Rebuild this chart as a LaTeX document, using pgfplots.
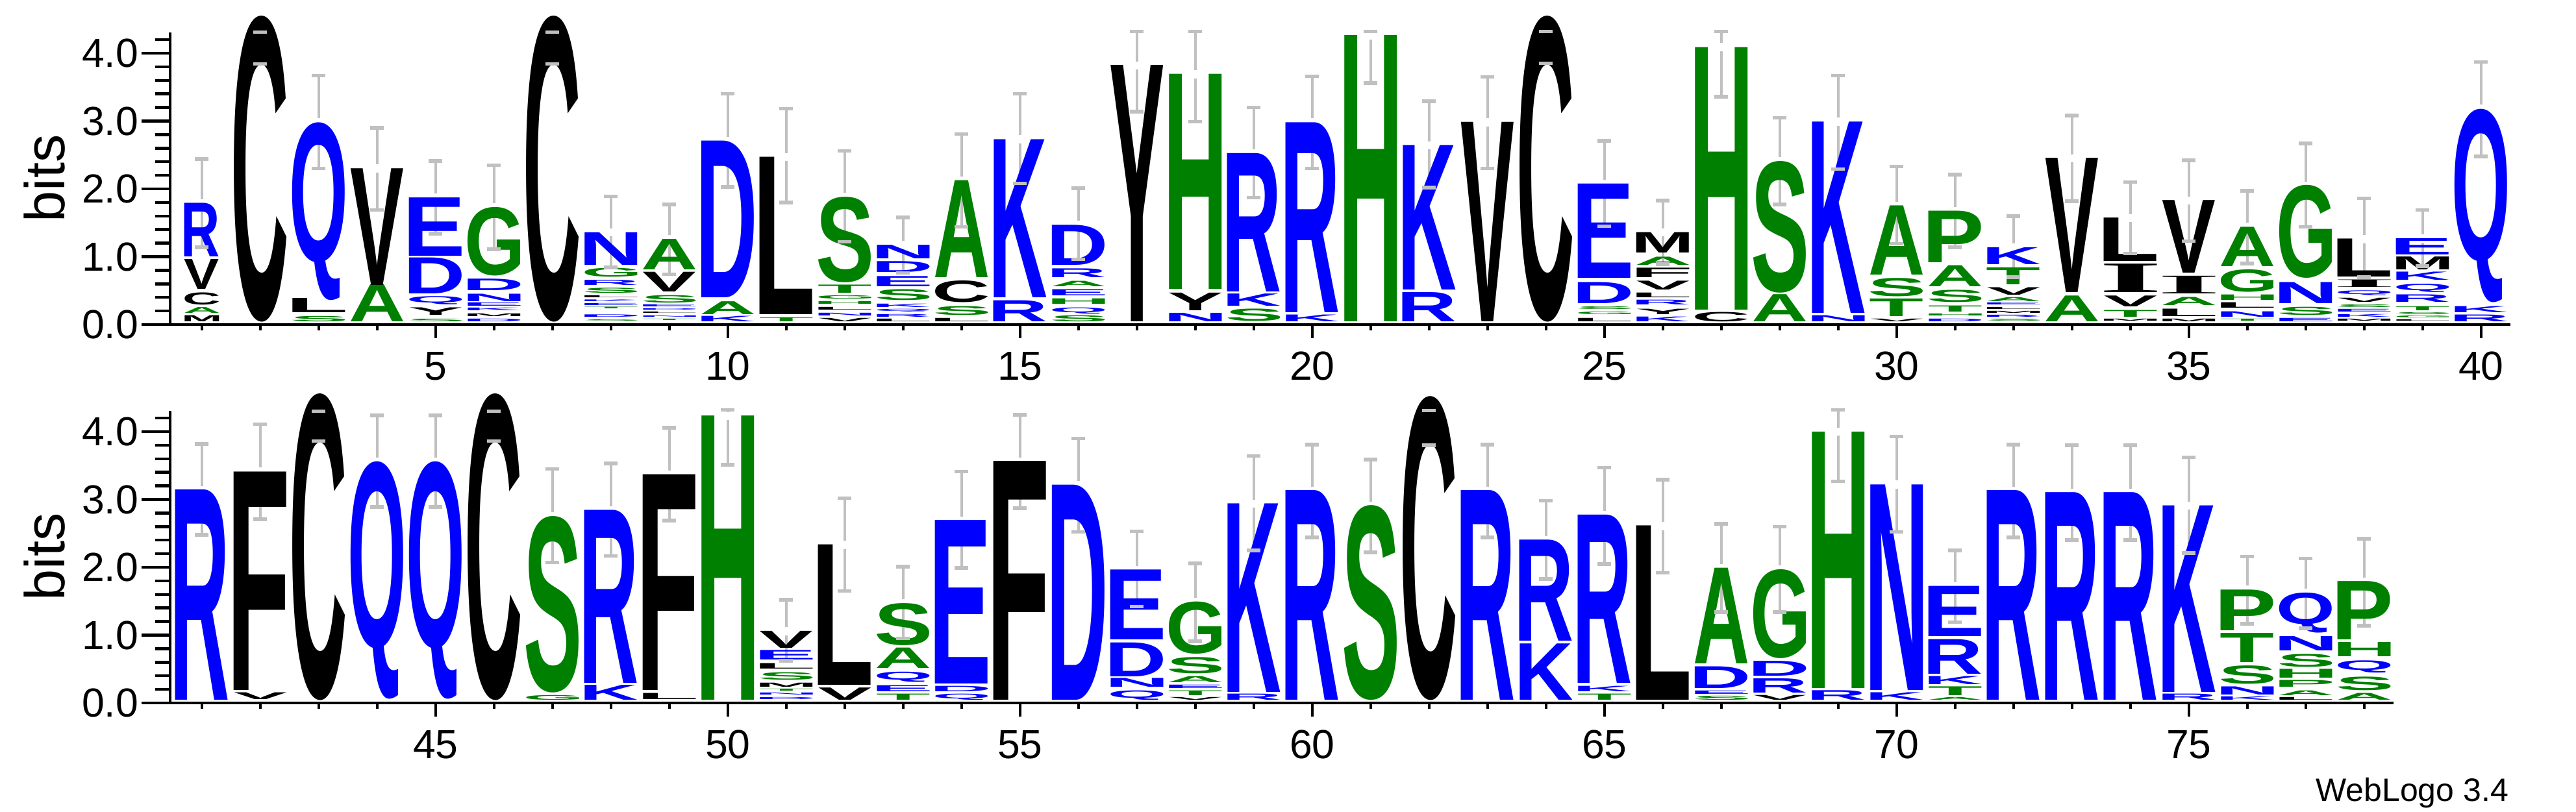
\documentclass[border=0pt]{standalone}
\usepackage{pgfplots}
\pgfplotsset{compat=1.18}
\usepackage{pgfplotstable}
\usepackage{graphicx}
\usepackage{fontspec}
\setmainfont{Liberation Sans}
\newfontfamily\logofam{Liberation Sans}
\newfontfamily\logoserfam{Liberation Serif}
\def\logofont{\logofam\bfseries\fontsize{20}{20}\selectfont}
\def\logoserif{\logoserfam\bfseries\fontsize{20}{20}\selectfont}

\definecolor{lblue}{RGB}{0,0,255}
\definecolor{lgreen}{RGB}{0,128,0}
\definecolor{lblack}{RGB}{0,0,0}
\definecolor{ebgray}{RGB}{192,192,192}
\colorlet{aaQ}{lblue}\colorlet{aaN}{lblue}\colorlet{aaD}{lblue}\colorlet{aaE}{lblue}\colorlet{aaK}{lblue}\colorlet{aaR}{lblue}
\colorlet{aaH}{lgreen}\colorlet{aaA}{lgreen}\colorlet{aaS}{lgreen}\colorlet{aaG}{lgreen}\colorlet{aaT}{lgreen}\colorlet{aaP}{lgreen}
\colorlet{aaC}{lblack}\colorlet{aaV}{lblack}\colorlet{aaL}{lblack}\colorlet{aaY}{lblack}\colorlet{aaF}{lblack}\colorlet{aaM}{lblack}\colorlet{aaI}{lblack}\colorlet{aaW}{lblack}

\newdimen\bitunit \bitunit=20.9pt
\newdimen\lsb \newdimen\rsb
\newcommand\aaglyph[1]{%
  \if I#1\logoserif\else\logofont\fi
  \lsb=\XeTeXglyphbounds 1 \XeTeXcharglyph`#1\relax
  \rsb=\XeTeXglyphbounds 3 \XeTeXcharglyph`#1\relax
  \textcolor{aa#1}{\kern-\lsb #1\kern-\rsb}}
\newcommand\logoletter{\edef\myL{\pgfplotspointmeta}%
  \resizebox*{\ww pt}{\hh\bitunit}{\expandafter\aaglyph\expandafter{\myL}}}

\def\ticksize{\fontsize{12.5}{12.5}\selectfont}

\pgfplotsset{
  logobase/.style={x=18pt, y=20.9pt, ymin=0, ymax=4.31, enlargelimits=false, clip=false,
     anchor=south west, tick align=outside,
     axis line style={line width=0.85pt, black},
     tick style={line width=0.9pt, black}},
  yside/.style={logobase, hide x axis, axis y line*=left,
     ytick={0,1,2,3,4},
     minor ytick={0.2,0.4,0.6,0.8,1.2,1.4,1.6,1.8,2.2,2.4,2.6,2.8,3.2,3.4,3.6,3.8,4.2},
     major tick length=8.8pt, minor tick length=4.6pt,
     yticklabel style={font=\ticksize, inner sep=0.8pt,
        /pgf/number format/fixed, /pgf/number format/fixed zerofill,
        /pgf/number format/precision=1, /pgf/number format/assume math mode=true},
     ylabel={bits}},
  xside/.style={logobase, hide y axis, axis x line*=bottom,
     major tick length=4.2pt, minor tick length=1.8pt,
     xticklabel={\pgfmathparse{int(\tick)}\pgfmathresult},
     xticklabel style={font=\ticksize, inner sep=4pt}},
  letters/.style={only marks, mark=*, mark size=0pt, mark options={draw=none, fill=none},
     point meta=explicit symbolic,
     visualization depends on={\thisrow{h} \as \hh},
     visualization depends on={#1 \as \ww},
     nodes near coords={\logoletter},
     every node near coord/.append style={anchor=south, inner sep=0pt, outer sep=0pt}},
  ebar/.style={forget plot, draw=none, mark=none,
     error bars/y explicit, error bars/error mark=none,
     error bars/error bar style={draw=ebgray, line width=0.8pt, solid}},
  ecap/.style={forget plot, only marks, mark=-, mark size=2.1pt,
     mark options={draw=ebgray, line width=1.1pt, solid}}
}
\def\gapv{0.06}

% ---------- top row ----------
\pgfplotstableread{
x y h L
1 0.04 0.09 M
1 0.165 0.085 A
1 0.29 0.18 C
1 0.52 0.44 V
1 1.00 0.79 R
}\posone

\pgfplotstableread{
x y h L
2 0.04 4.51 C
3 0.04 0.08 S
3 0.18 0.21 L
3 0.36 2.62 Q
4 0.04 0.55 A
4 0.58 1.72 V
5 0.04 0.04 S
5 0.14 0.11 Y
5 0.29 0.12 Q
5 0.45 0.53 D
5 1.01 0.86 E
6 0.04 0.04 D
6 0.12 0.04 M
6 0.20 0.04 K
6 0.27 0.05 E
6 0.34 0.11 N
6 0.50 0.17 D
6 0.72 1.01 G
7 0.04 4.51 C
8 0.04 0.02 S
8 0.10 0.035 D
8 0.22 0.025 T
8 0.27 0.03 E
8 0.33 0.025 K
8 0.39 0.03 L
8 0.465 0.075 S
8 0.575 0.075 R
8 0.70 0.13 G
8 0.88 0.48 N
9 0.05 0.02 T
9 0.10 0.02 N
9 0.15 0.02 L
9 0.20 0.02 D
9 0.25 0.03 E
9 0.32 0.11 S
9 0.48 0.29 V
9 0.81 0.45 A
10 0.04 0.08 K
10 0.15 0.19 A
10 0.40 2.31 D
11 0.04 0.06 T
11 0.15 2.32 L
12 0.04 0.05 V
12 0.13 0.04 N
12 0.21 0.04 L
12 0.30 0.04 H
12 0.38 0.05 G
12 0.46 0.12 T
12 0.62 1.26 S
13 0.04 0.04 L
13 0.11 0.04 R
13 0.18 0.04 Q
13 0.25 0.05 K
13 0.36 0.16 S
13 0.56 0.15 E
13 0.77 0.16 D
13 0.97 0.20 N
14 0.04 0.05 L
14 0.14 0.13 S
14 0.33 0.32 C
14 0.69 1.43 A
15 0.04 0.31 R
15 0.40 2.33 K
16 0.04 0.09 S
16 0.16 0.09 Q
16 0.30 0.08 H
16 0.43 0.09 E
16 0.56 0.08 A
16 0.69 0.13 R
16 0.88 0.59 D
17 0.04 3.78 Y
18 0.04 0.125 N
18 0.21 0.26 Y
18 0.52 3.17 H
19 0.05 0.18 S
19 0.27 0.18 K
19 0.48 2.04 R
20 0.04 0.10 K
20 0.18 2.80 R
21 0.04 4.22 H
22 0.04 0.43 R
22 0.51 2.13 K
23 0.04 2.94 V
24 0.04 4.51 C
25 0.04 0.05 L
25 0.14 0.04 G
25 0.22 0.04 S
25 0.31 0.31 D
25 0.68 1.39 E
26 0.04 0.07 K
26 0.15 0.08 Y
26 0.29 0.07 R
26 0.40 0.07 L
26 0.51 0.13 V
26 0.69 0.14 F
26 0.88 0.12 A
26 1.06 0.30 M
27 0.04 0.14 C
27 0.22 3.87 H
28 0.04 0.40 A
28 0.47 1.94 S
29 0.04 0.09 N
29 0.17 2.82 K
30 0.04 0.04 V
30 0.12 0.26 T
30 0.41 0.27 S
30 0.73 1.02 A
31 0.04 0.04 D
31 0.12 0.03 H
31 0.19 0.09 T
31 0.33 0.18 S
31 0.56 0.31 A
31 0.91 0.76 P
32 0.04 0.03 S
32 0.10 0.03 R
32 0.16 0.03 M
32 0.22 0.03 L
32 0.28 0.03 E
32 0.34 0.06 A
32 0.44 0.11 V
32 0.59 0.25 T
32 0.89 0.25 K
33 0.04 0.38 A
33 0.47 1.98 V
34 0.04 0.03 M
34 0.11 0.10 T
34 0.26 0.16 V
34 0.47 0.42 I
34 0.93 0.64 L
35 0.04 0.04 M
35 0.12 0.11 L
35 0.28 0.12 A
35 0.45 0.26 I
35 0.76 1.07 V
36 0.04 0.03 T
36 0.11 0.08 N
36 0.24 0.08 L
36 0.36 0.08 H
36 0.48 0.33 G
36 0.86 0.58 A
37 0.04 0.05 E
37 0.14 0.12 S
37 0.31 0.31 N
37 0.68 1.37 G
38 0.04 0.03 M
38 0.11 0.04 K
38 0.18 0.04 E
38 0.25 0.04 S
38 0.33 0.06 V
38 0.43 0.07 Q
38 0.55 0.11 I
38 0.70 0.56 L
39 0.04 0.02 L
39 0.09 0.03 G
39 0.14 0.03 S
39 0.21 0.06 T
39 0.33 0.11 R
39 0.48 0.12 Q
39 0.66 0.12 K
39 0.81 0.19 M
39 1.03 0.24 E
40 0.04 0.10 R
40 0.18 0.09 K
40 0.33 2.85 Q
}\topletters

% stack top c, error bar ends lo and hi (bits)
\pgfplotstableread{
x c lo hi
1 1.79 1.14 2.44
2 4.55 3.84 4.31
3 2.98 2.30 3.67
4 2.30 1.69 2.90
5 1.87 1.34 2.41
6 1.73 1.11 2.35
7 4.55 3.84 4.31
8 1.36 0.84 1.89
9 1.26 0.74 1.77
10 2.71 2.03 3.40
11 2.47 1.80 3.18
12 1.88 1.22 2.56
13 1.17 0.76 1.58
14 2.12 1.44 2.81
15 2.73 2.08 3.40
16 1.47 0.96 2.01
17 3.82 3.14 4.32
18 3.69 2.99 4.32
19 2.52 1.87 3.20
20 2.98 2.30 3.66
21 4.26 3.56 4.32
22 2.64 2.02 3.29
23 2.98 2.30 3.65
24 4.55 3.85 4.32
25 2.07 1.45 2.71
26 1.36 0.89 1.83
27 4.09 3.36 4.32
28 2.41 1.77 3.05
29 2.99 2.29 3.67
30 1.75 1.19 2.33
31 1.67 1.14 2.21
32 1.14 0.70 1.60
33 2.45 1.82 3.08
34 1.57 1.05 2.10
35 1.83 1.23 2.42
36 1.44 0.90 1.97
37 2.05 1.44 2.67
38 1.26 0.70 1.86
39 1.27 0.86 1.69
40 3.18 2.48 3.87
}\toperr

% ---------- bottom row ----------
\pgfplotstableread{
x y h L
41 0.04 3.10 R
42 0.05 0.10 V
42 0.19 3.22 F
43 0.04 4.52 C
44 0.06 3.50 Q
45 0.06 3.50 Q
46 0.04 4.52 C
47 0.04 0.07 G
47 0.15 2.60 S
48 0.04 0.22 K
48 0.29 2.55 R
49 0.05 0.09 L
49 0.19 3.18 F
50 0.04 4.19 H
51 0.04 0.03 D
51 0.11 0.03 N
51 0.17 0.03 T
51 0.23 0.06 M
51 0.34 0.11 S
51 0.50 0.08 L
51 0.64 0.14 E
51 0.81 0.25 V
52 0.04 0.18 V
52 0.26 2.07 L
53 0.04 0.09 T
53 0.17 0.09 E
53 0.31 0.15 Q
53 0.51 0.30 A
53 0.85 0.62 S
54 0.04 0.09 Q
54 0.17 0.08 D
54 0.28 2.41 E
55 0.04 3.52 F
56 0.04 3.17 D
57 0.04 0.14 Q
57 0.23 0.13 N
57 0.39 0.50 D
57 0.93 1.03 E
58 0.04 0.04 V
58 0.11 0.07 T
58 0.22 0.05 E
58 0.30 0.09 A
58 0.43 0.24 S
58 0.72 0.77 G
59 0.04 0.09 R
59 0.16 2.78 K
60 0.04 3.09 R
61 0.04 2.87 S
62 0.04 4.48 C
63 0.04 3.09 R
64 0.04 0.83 K
64 0.91 1.49 R
65 0.04 0.09 T
65 0.17 0.08 K
65 0.29 2.48 R
66 0.04 2.57 L
67 0.04 0.06 S
67 0.13 0.05 E
67 0.22 0.32 D
67 0.58 1.41 A
68 0.04 0.07 V
68 0.15 0.21 R
68 0.40 0.22 D
68 0.66 1.31 G
69 0.04 0.14 R
69 0.22 3.78 H
70 0.04 0.11 K
70 0.19 3.03 N
71 0.04 0.04 A
71 0.11 0.13 T
71 0.27 0.12 K
71 0.43 0.51 R
71 0.98 0.74 E
72 0.04 3.09 R
73 0.04 3.06 R
74 0.04 3.06 R
75 0.04 0.09 R
75 0.16 2.75 K
76 0.04 0.05 K
76 0.12 0.12 N
76 0.28 0.27 S
76 0.60 0.43 T
76 1.07 0.60 P
77 0.04 0.04 L
77 0.11 0.07 A
77 0.23 0.10 P
77 0.37 0.13 H
77 0.53 0.19 S
77 0.77 0.21 N
77 1.03 0.59 Q
78 0.04 0.10 A
78 0.18 0.20 S
78 0.44 0.18 Q
78 0.68 0.21 H
78 0.93 0.86 P
}\botletters

\pgfplotstableread{
x c lo hi
41 3.14 2.48 3.82
42 3.41 2.71 4.11
43 4.56 3.86 4.30
44 3.56 2.89 4.24
45 3.56 2.89 4.24
46 4.56 3.86 4.30
47 2.75 2.07 3.45
48 2.84 2.17 3.53
49 3.37 2.69 4.06
50 4.23 3.51 4.32
51 1.06 0.62 1.52
52 2.33 1.65 3.02
53 1.47 0.95 2.01
54 2.69 1.99 3.41
55 3.56 2.87 4.25
56 3.21 2.52 3.90
57 1.96 1.42 2.53
58 1.49 0.91 2.06
59 2.94 2.25 3.64
60 3.13 2.44 3.81
61 2.91 2.22 3.59
62 4.52 3.80 4.31
63 3.13 2.44 3.81
64 2.40 1.83 2.98
65 2.77 2.05 3.47
66 2.61 1.92 3.29
67 1.99 1.34 2.64
68 1.97 1.34 2.60
69 4.00 3.27 4.32
70 3.22 2.52 3.93
71 1.72 1.19 2.25
72 3.13 2.44 3.81
73 3.10 2.40 3.80
74 3.10 2.40 3.80
75 2.91 2.21 3.62
76 1.67 1.17 2.16
77 1.62 1.10 2.13
78 1.79 1.14 2.42
}\boterr

\begin{document}
\begin{tikzpicture}
\path[use as bounding box] (-52.4pt,-150pt) rectangle (741pt,100pt);

% ---- top row: y axis ----
\begin{axis}[yside, at={(0pt,0pt)}, xmin=0.456, xmax=40.5,
  ylabel style={at={(axis description cs:-0.04467,0.5)}, anchor=south, inner sep=0pt,
     font=\fontsize{17.3}{17.3}\selectfont}]
\end{axis}
% ---- top row: x axis, letters, error bars ----
\begin{axis}[xside, at={(0pt,0pt)}, xmin=0.456, xmax=40.5,
  xtick={5,10,...,40}, minor xtick={1,...,40}]
\addplot[letters=10.6] table[x=x, y=y, meta=L] {\posone};
\addplot[letters=16.2] table[x=x, y=y, meta=L] {\topletters};
\addplot[ebar, error bars/y dir=plus] table[x=x,
   y expr={min(\thisrow{c}+\gapv,\thisrow{hi})},
   y error plus expr={\thisrow{hi}-min(\thisrow{c}+\gapv,\thisrow{hi})}] {\toperr};
\addplot[ebar, error bars/y dir=minus] table[x=x,
   y expr={min(\thisrow{c}-\gapv,\thisrow{hi})},
   y error minus expr={min(\thisrow{c}-\gapv,\thisrow{hi})-\thisrow{lo}}] {\toperr};
\addplot[ecap] table[x=x, y=lo] {\toperr};
\addplot[ecap] table[x=x, y=hi] {\toperr};
\end{axis}

% ---- bottom row: y axis ----
\begin{axis}[yside, at={(0pt,-116.6pt)}, xmin=40.456, xmax=78.5,
  ylabel style={at={(axis description cs:-0.04702,0.5)}, anchor=south, inner sep=0pt,
     font=\fontsize{17.3}{17.3}\selectfont}]
\end{axis}
% ---- bottom row: x axis, letters, error bars ----
\begin{axis}[xside, at={(0pt,-116.6pt)}, xmin=40.456, xmax=78.5,
  xtick={45,50,...,75}, minor xtick={41,...,78}]
\addplot[letters=16.2] table[x=x, y=y, meta=L] {\botletters};
\addplot[ebar, error bars/y dir=plus] table[x=x,
   y expr={min(\thisrow{c}+\gapv,\thisrow{hi})},
   y error plus expr={\thisrow{hi}-min(\thisrow{c}+\gapv,\thisrow{hi})}] {\boterr};
\addplot[ebar, error bars/y dir=minus] table[x=x,
   y expr={min(\thisrow{c}-\gapv,\thisrow{hi})},
   y error minus expr={min(\thisrow{c}-\gapv,\thisrow{hi})-\thisrow{lo}}] {\boterr};
\addplot[ecap] table[x=x, y=lo] {\boterr};
\addplot[ecap] table[x=x, y=hi] {\boterr};
\end{axis}

\node[anchor=base east, inner sep=0pt, font=\fontsize{10}{10}\selectfont] at (720.4pt,-146.8pt) {WebLogo 3.4};
\end{tikzpicture}
\end{document}
